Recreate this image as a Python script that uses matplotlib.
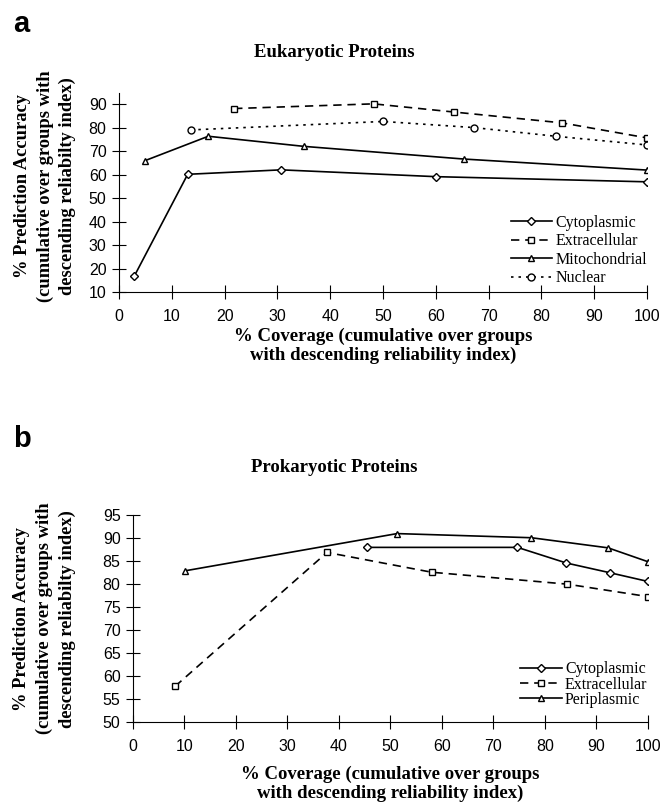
import numpy as np
import matplotlib.pyplot as plt

# panel a: eukaryotic proteins
euk_cyto_x = [2.9, 13.0, 30.7, 60.0, 100]
euk_cyto_y = [16.9, 60.2, 62.1, 59.2, 57.0]
euk_extra_x = [21.8, 48.2, 63.5, 83.9, 100]
euk_extra_y = [88.2, 90.2, 86.7, 82.1, 75.7]
euk_mito_x = [4.9, 16.9, 35.0, 65.3, 100]
euk_mito_y = [66.0, 76.4, 72.1, 66.7, 62.0]
euk_nuc_x = [13.6, 50.0, 67.2, 82.7, 100]
euk_nuc_y = [79.1, 82.7, 80.1, 76.4, 72.7]

# panel b: prokaryotic proteins
pro_cyto_x = [45.5, 74.7, 84.2, 92.6, 100]
pro_cyto_y = [88.0, 88.0, 84.6, 82.5, 80.6]
pro_extra_x = [8.2, 37.7, 58.0, 84.4, 100]
pro_extra_y = [57.8, 86.9, 82.6, 80.0, 77.3]
pro_peri_x = [10.1, 51.3, 77.4, 92.3, 100]
pro_peri_y = [82.9, 91.0, 90.1, 87.9, 84.9]

serif = "Liberation Serif"
sans = "Liberation Sans"

fig = plt.figure(figsize=(6.65, 8.05), dpi=100)
ax1 = fig.add_axes([0.179, 0.637, 0.794, 0.248])
ax2 = fig.add_axes([0.200, 0.103, 0.774, 0.257])

mk = dict(markersize=5, markerfacecolor="white", markeredgecolor="black",
          markeredgewidth=1.0, color="black", linewidth=1.2)
dashed = (0, (5, 3.5))
dotted = (0, (1.5, 3))

ax1.plot(euk_cyto_x, euk_cyto_y, marker="D", label="Cytoplasmic", **dict(mk, markersize=4))
ax1.plot(euk_extra_x, euk_extra_y, marker="s", linestyle=dashed, label="Extracellular", **mk)
ax1.plot(euk_mito_x, euk_mito_y, marker="^", label="Mitochondrial", **mk)
ax1.plot(euk_nuc_x, euk_nuc_y, marker="o", linestyle=dotted, label="Nuclear", **mk)
ax1.set_xlim(0, 100)
ax1.set_ylim(10, 95)
ax1.set_yticks(np.arange(10, 91, 10))

ax2.plot(pro_cyto_x, pro_cyto_y, marker="D", label="Cytoplasmic", **dict(mk, markersize=4))
ax2.plot(pro_extra_x, pro_extra_y, marker="s", linestyle=dashed, label="Extracellular", **mk)
ax2.plot(pro_peri_x, pro_peri_y, marker="^", label="Periplasmic", **mk)
ax2.set_xlim(0, 100)
ax2.set_ylim(50, 95)
ax2.set_yticks(np.arange(50, 96, 5))

ylab = "% Prediction Accuracy\n(cumulative over groups with\ndescending reliabilty index)"
xlab = "% Coverage (cumulative over groups\nwith descending reliability index)"

# per panel: title y, ylabel coords, xlabel coords, legend anchor, legend row gap
setup = [(ax1, "Eukaryotic Proteins", 0.935, (-0.140, 0.53), (0.5, -0.27), (1.015, -0.01), 0.15),
         (ax2, "Prokaryotic Proteins", 0.419, (-0.172, 0.5), (0.5, -0.30), (1.015, 0.03), -0.04)]

for ax, title, ty, ylc, xlc, leg_pos, gap in setup:
    ax.set_xticks(np.arange(0, 101, 10))
    for s in ["top", "right"]:
        ax.spines[s].set_visible(False)
    for s in ["left", "bottom"]:
        ax.spines[s].set_linewidth(0.8)
    ax.tick_params(direction="inout", length=10, width=0.8, labelsize=11.5, pad=4)
    ax.tick_params(axis="x", pad=7)
    for lab in ax.get_xticklabels() + ax.get_yticklabels():
        lab.set_fontfamily(sans)
    ax.set_xlabel(xlab, fontfamily=serif, fontweight="bold", fontsize=13.5,
                  linespacing=1.1, va="center")
    ax.xaxis.set_label_coords(*xlc)
    ax.set_ylabel(ylab, fontfamily=serif, fontweight="bold", fontsize=13.3,
                  linespacing=1.42, va="center")
    ax.yaxis.set_label_coords(*ylc)
    fig.text(0.502, ty, title, fontfamily=serif, fontweight="bold", fontsize=13.5,
             ha="center", va="center")
    ax.legend(loc="lower right", bbox_to_anchor=leg_pos, frameon=False,
              prop={"family": serif, "size": 11.5}, handlelength=2.6,
              handletextpad=0.2, labelspacing=gap, borderpad=0)

fig.text(0.02, 0.960, "a", fontfamily=sans, fontweight="bold", fontsize=21, va="baseline")
fig.text(0.02, 0.445, "b", fontfamily=sans, fontweight="bold", fontsize=21, va="baseline")

fig.savefig("out.png", dpi=100)
